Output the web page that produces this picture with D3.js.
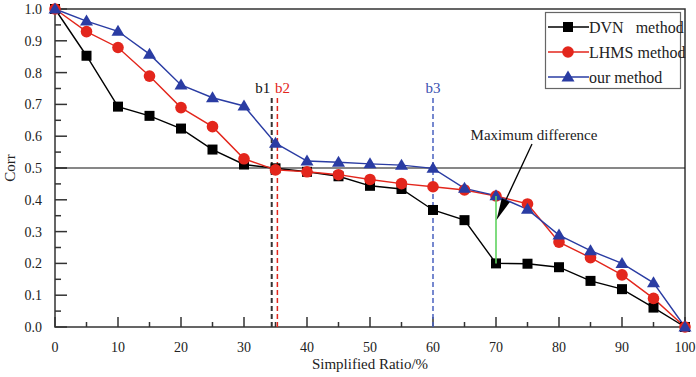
<!DOCTYPE html>
<html><head><meta charset="utf-8">
<script src="https://cdn.jsdelivr.net/npm/d3@7"></script>
<style>body{margin:0;background:#fff}svg{display:block}text{font-family:"Liberation Serif","Times New Roman",serif;fill:#222}</style>
</head><body><svg id="c" width="696" height="377"></svg>
<script>
const ratios = [0,5,10,15,20,25,30,35,40,45,50,55,60,65,70,75,80,85,90,95,100];
const dvn  = [1.0,0.853,0.693,0.664,0.624,0.558,0.511,0.499,0.488,0.474,0.444,0.434,0.368,0.336,0.200,0.199,0.188,0.145,0.119,0.061,0.0];
const lhms = [1.0,0.929,0.879,0.789,0.690,0.630,0.529,0.494,0.488,0.479,0.464,0.451,0.441,0.431,0.412,0.387,0.267,0.218,0.164,0.090,0.0];
const ours = [1.0,0.962,0.930,0.858,0.761,0.721,0.695,0.578,0.522,0.518,0.513,0.509,0.499,0.436,0.413,0.370,0.289,0.240,0.200,0.139,0.0];
const seriesNames = ["DVN   method","LHMS method","our method"];
const xTicks = [0,10,20,30,40,50,60,70,80,90,100];
const yTicks = [0.0,0.1,0.2,0.3,0.4,0.5,0.6,0.7,0.8,0.9,1.0];
const bLines = [{label:"b1",x:34.4},{label:"b2",x:35.3},{label:"b3",x:60}];
const refLine = 0.5;
const maxDiffX = 70;

const colors = ["#000000","#e3261c","#2a3ca3"];
const dashColors = ["#333333","#e3261c","#4a62c0"];
const svg = d3.select("#c");
const L=55,R=685,T=9,B=327;
const x = d3.scaleLinear().domain([0,100]).range([L,R]);
const y = d3.scaleLinear().domain([0,1]).range([B,T]);

// frame
svg.append("rect").attr("x",L).attr("y",T).attr("width",R-L).attr("height",B-T)
  .attr("fill","none").attr("stroke","#333").attr("stroke-width",1.5);

// axes ticks (inward)
const xAxis = d3.axisTop(x).tickValues(d3.range(0,101,5)).tickSize(0).tickFormat("");
const gx = svg.append("g").attr("transform",`translate(0,${B})`);
gx.selectAll("line.t").data(d3.range(0,101,5)).join("line")
  .attr("x1",d=>x(d)).attr("x2",d=>x(d)).attr("y1",0).attr("y2",d=>d%10===0?-10:-5)
  .attr("stroke","#333").attr("stroke-width",1.5);
gx.selectAll("text").data(xTicks).join("text").attr("x",d=>x(d)).attr("y",25)
  .attr("text-anchor","middle").attr("font-size",14).text(d=>d);
const gy = svg.append("g").attr("transform",`translate(${L},0)`);
gy.selectAll("line.t").data(d3.range(0,1.001,0.05)).join("line")
  .attr("x1",0).attr("x2",(d,i)=>i%2===0?12:6).attr("y1",d=>y(d)).attr("y2",d=>y(d))
  .attr("stroke","#333").attr("stroke-width",1.5);
gy.selectAll("text").data(yTicks).join("text").attr("x",-13).attr("y",d=>y(d)+5)
  .attr("text-anchor","end").attr("font-size",14).text(d=>d.toFixed(1));

// axis titles
svg.append("text").attr("x",(L+R)/2).attr("y",369).attr("text-anchor","middle")
  .attr("font-size",15).text("Simplified Ratio/%");
svg.append("text").attr("transform",`translate(15,${(T+B)/2}) rotate(-90)`)
  .attr("text-anchor","middle").attr("font-size",15).text("Corr");

// reference horizontal line
svg.append("line").attr("x1",L).attr("x2",R).attr("y1",y(refLine)).attr("y2",y(refLine))
  .attr("stroke","#111").attr("stroke-width",1.2);

// b lines
const bColorIdx = [0,1,2];
bLines.forEach((b,i)=>{
  svg.append("line").attr("x1",x(b.x)).attr("x2",x(b.x)).attr("y1",98).attr("y2",B)
    .attr("stroke",dashColors[bColorIdx[i]]).attr("stroke-width",i===0?2:1.5)
    .attr("stroke-dasharray","5,3");
});
svg.append("text").attr("x",x(bLines[0].x)-9).attr("y",93).attr("text-anchor","middle").attr("font-size",15).attr("style","fill:#111").text("b1");
svg.append("text").attr("x",x(bLines[1].x)+5).attr("y",93).attr("text-anchor","middle").attr("font-size",15).attr("style","fill:#e3261c").text("b2");
svg.append("text").attr("x",x(bLines[2].x)).attr("y",93).attr("text-anchor","middle").attr("font-size",15).attr("style","fill:#3a50b0").text("b3");

// series
const data = [dvn,lhms,ours];
const line = d3.line().x((d,i)=>x(ratios[i])).y(d=>y(d));
function marker(g,k,cx,cy){
  if(k===0) g.append("rect").attr("x",cx-5).attr("y",cy-5).attr("width",10).attr("height",10).attr("fill",colors[0]);
  else if(k===1) g.append("circle").attr("cx",cx).attr("cy",cy).attr("r",5.8).attr("fill",colors[1]);
  else g.append("path").attr("d",`M${cx},${cy-6.5}L${cx+6.5},${cy+4.5}L${cx-6.5},${cy+4.5}Z`).attr("fill",colors[2]);
}
data.forEach((s,k)=>{
  svg.append("path").attr("d",line(s)).attr("fill","none").attr("stroke",colors[k]).attr("stroke-width",1.4);
});
data.forEach((s,k)=>{
  const g = svg.append("g");
  s.forEach((v,i)=>marker(g,k,x(ratios[i]),y(v)));
});

// max difference green line
const mi = ratios.indexOf(maxDiffX);
svg.append("line").attr("x1",x(maxDiffX)).attr("x2",x(maxDiffX)).attr("y1",y(dvn[mi])).attr("y2",y(lhms[mi]))
  .attr("stroke","#5fd35f").attr("stroke-width",1.6);

// annotation
svg.append("text").attr("x",534).attr("y",140).attr("text-anchor","middle").attr("font-size",15).text("Maximum difference");
const tip=[x(maxDiffX)+0.5,220], st=[532,144];
const ang=Math.atan2(tip[1]-st[1],tip[0]-st[0]);
const hl=22, hw=4.5;
const bx=tip[0]-hl*Math.cos(ang), by=tip[1]-hl*Math.sin(ang);
svg.append("line").attr("x1",st[0]).attr("y1",st[1]).attr("x2",bx).attr("y2",by).attr("stroke","#000").attr("stroke-width",1.3);
svg.append("path").attr("d",`M${tip[0]},${tip[1]}L${bx+hw*Math.sin(ang)},${by-hw*Math.cos(ang)}L${bx-hw*Math.sin(ang)},${by+hw*Math.cos(ang)}Z`).attr("fill","#000");

// legend
const lg = svg.append("g");
lg.append("rect").attr("x",545.5).attr("y",12.5).attr("width",135).attr("height",76)
  .attr("fill","#fff").attr("stroke","#666").attr("stroke-width",1.2);
seriesNames.forEach((n,k)=>{
  const yy = 27+k*25;
  lg.append("line").attr("x1",548).attr("x2",589).attr("y1",yy).attr("y2",yy).attr("stroke",colors[k]).attr("stroke-width",1.4);
  marker(lg,k,568,yy);
  lg.append("text").attr("x",589).attr("y",yy+6).attr("font-size",16).attr("xml:space","preserve").style("white-space","pre").text(n);
});
</script></body></html>
